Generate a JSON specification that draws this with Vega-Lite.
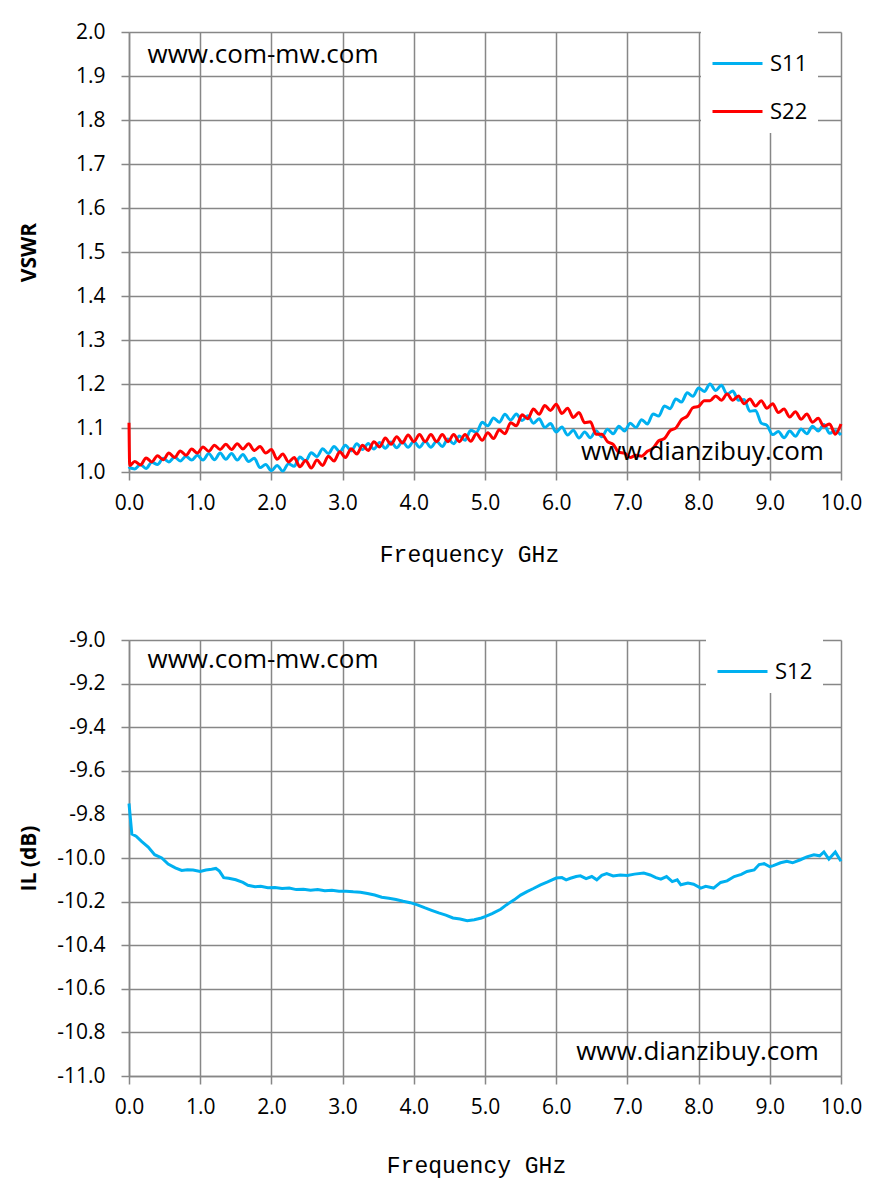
{
  "$schema": "https://vega.github.io/schema/vega-lite/v6.json",
  "padding": {"left": 18, "top": 21, "right": 5, "bottom": 5},
  "spacing": 63,
  "resolve": {"scale": {"color": "independent"}, "legend": {"color": "independent"}},
  "config": {
    "font": "Open Sans",
    "view": {"stroke": null},
    "axis": {
      "gridColor": "#878787", "gridWidth": 1.5, "gridOpacity": 1,
      "domainColor": "#878787", "domainWidth": 1.5,
      "tickColor": "#878787", "tickWidth": 1.5, "tickSize": 8,
      "labelFont": "Open Sans", "labelFontSize": 21, "labelColor": "#000000",
      "labelFlush": false, "titleColor": "#000000"
    },
    "axisX": {
      "labelPadding": 12,
      "titleFont": "Liberation Mono", "titleFontSize": 23, "titleFontWeight": "normal",
      "titleBaseline": "alphabetic", "titleX": 340
    },
    "axisY": {
      "labelPadding": 16,
      "titleFont": "Open Sans", "titleFontSize": 21, "titleFontWeight": "bold",
      "titleX": -100, "titleBaseline": "middle"
    },
    "legend": {
      "symbolType": "stroke", "symbolSize": 2500, "symbolStrokeWidth": 3,
      "labelFont": "Open Sans", "labelFontSize": 22, "labelColor": "#000000",
      "labelOffset": 6, "fillColor": "white", "padding": 10, "rowPadding": 10
    }
  },
  "vconcat": [
    {
      "width": 712,
      "height": 440,
      "layer": [
        {
          "data": {
            "values": [
              {"f": 0, "S11": 1.012, "S22": 1.112},
              {"f": 0.01, "S11": 1.010, "S22": 1.015},
              {"f": 0.08, "S11": 1.007, "S22": 1.024},
              {"f": 0.16, "S11": 1.017, "S22": 1.016},
              {"f": 0.24, "S11": 1.008, "S22": 1.032},
              {"f": 0.32, "S11": 1.022, "S22": 1.023},
              {"f": 0.40, "S11": 1.017, "S22": 1.037},
              {"f": 0.48, "S11": 1.031, "S22": 1.028},
              {"f": 0.56, "S11": 1.023, "S22": 1.043},
              {"f": 0.64, "S11": 1.034, "S22": 1.033},
              {"f": 0.72, "S11": 1.025, "S22": 1.048},
              {"f": 0.80, "S11": 1.036, "S22": 1.038},
              {"f": 0.88, "S11": 1.027, "S22": 1.052},
              {"f": 0.96, "S11": 1.038, "S22": 1.043},
              {"f": 1.04, "S11": 1.027, "S22": 1.057},
              {"f": 1.12, "S11": 1.042, "S22": 1.047},
              {"f": 1.20, "S11": 1.028, "S22": 1.061},
              {"f": 1.28, "S11": 1.043, "S22": 1.051},
              {"f": 1.36, "S11": 1.029, "S22": 1.063},
              {"f": 1.44, "S11": 1.042, "S22": 1.051},
              {"f": 1.52, "S11": 1.027, "S22": 1.064},
              {"f": 1.60, "S11": 1.040, "S22": 1.052},
              {"f": 1.68, "S11": 1.024, "S22": 1.064},
              {"f": 1.76, "S11": 1.031, "S22": 1.049},
              {"f": 1.84, "S11": 1.010, "S22": 1.058},
              {"f": 1.92, "S11": 1.017, "S22": 1.043},
              {"f": 2.00, "S11": 1.003, "S22": 1.051},
              {"f": 2.08, "S11": 1.015, "S22": 1.029},
              {"f": 2.16, "S11": 1.002, "S22": 1.041},
              {"f": 2.24, "S11": 1.019, "S22": 1.023},
              {"f": 2.32, "S11": 1.013, "S22": 1.033},
              {"f": 2.40, "S11": 1.034, "S22": 1.012},
              {"f": 2.48, "S11": 1.025, "S22": 1.026},
              {"f": 2.56, "S11": 1.044, "S22": 1.009},
              {"f": 2.64, "S11": 1.035, "S22": 1.027},
              {"f": 2.72, "S11": 1.053, "S22": 1.015},
              {"f": 2.80, "S11": 1.042, "S22": 1.036},
              {"f": 2.88, "S11": 1.058, "S22": 1.025},
              {"f": 2.96, "S11": 1.046, "S22": 1.046},
              {"f": 3.04, "S11": 1.061, "S22": 1.033},
              {"f": 3.12, "S11": 1.048, "S22": 1.053},
              {"f": 3.20, "S11": 1.064, "S22": 1.041},
              {"f": 3.28, "S11": 1.051, "S22": 1.061},
              {"f": 3.36, "S11": 1.065, "S22": 1.049},
              {"f": 3.44, "S11": 1.052, "S22": 1.069},
              {"f": 3.52, "S11": 1.067, "S22": 1.057},
              {"f": 3.60, "S11": 1.054, "S22": 1.077},
              {"f": 3.68, "S11": 1.068, "S22": 1.063},
              {"f": 3.76, "S11": 1.055, "S22": 1.080},
              {"f": 3.84, "S11": 1.069, "S22": 1.066},
              {"f": 3.92, "S11": 1.056, "S22": 1.084},
              {"f": 4.00, "S11": 1.070, "S22": 1.069},
              {"f": 4.08, "S11": 1.056, "S22": 1.085},
              {"f": 4.16, "S11": 1.070, "S22": 1.069},
              {"f": 4.24, "S11": 1.056, "S22": 1.085},
              {"f": 4.32, "S11": 1.070, "S22": 1.069},
              {"f": 4.40, "S11": 1.058, "S22": 1.085},
              {"f": 4.48, "S11": 1.075, "S22": 1.069},
              {"f": 4.56, "S11": 1.064, "S22": 1.085},
              {"f": 4.64, "S11": 1.082, "S22": 1.069},
              {"f": 4.72, "S11": 1.072, "S22": 1.085},
              {"f": 4.80, "S11": 1.095, "S22": 1.070},
              {"f": 4.88, "S11": 1.090, "S22": 1.087},
              {"f": 4.96, "S11": 1.113, "S22": 1.072},
              {"f": 5.04, "S11": 1.105, "S22": 1.089},
              {"f": 5.12, "S11": 1.123, "S22": 1.076},
              {"f": 5.20, "S11": 1.113, "S22": 1.096},
              {"f": 5.28, "S11": 1.131, "S22": 1.087},
              {"f": 5.36, "S11": 1.118, "S22": 1.112},
              {"f": 5.44, "S11": 1.132, "S22": 1.105},
              {"f": 5.52, "S11": 1.117, "S22": 1.130},
              {"f": 5.60, "S11": 1.128, "S22": 1.121},
              {"f": 5.68, "S11": 1.111, "S22": 1.143},
              {"f": 5.76, "S11": 1.121, "S22": 1.131},
              {"f": 5.84, "S11": 1.101, "S22": 1.151},
              {"f": 5.92, "S11": 1.110, "S22": 1.140},
              {"f": 6.00, "S11": 1.091, "S22": 1.154},
              {"f": 6.08, "S11": 1.102, "S22": 1.133},
              {"f": 6.16, "S11": 1.084, "S22": 1.145},
              {"f": 6.24, "S11": 1.095, "S22": 1.124},
              {"f": 6.32, "S11": 1.077, "S22": 1.135},
              {"f": 6.40, "S11": 1.091, "S22": 1.112},
              {"f": 6.48, "S11": 1.078, "S22": 1.114},
              {"f": 6.56, "S11": 1.094, "S22": 1.086},
              {"f": 6.64, "S11": 1.080, "S22": 1.086},
              {"f": 6.72, "S11": 1.097, "S22": 1.069},
              {"f": 6.80, "S11": 1.087, "S22": 1.063},
              {"f": 6.88, "S11": 1.104, "S22": 1.045},
              {"f": 6.96, "S11": 1.093, "S22": 1.043},
              {"f": 7.04, "S11": 1.111, "S22": 1.033},
              {"f": 7.12, "S11": 1.101, "S22": 1.038},
              {"f": 7.20, "S11": 1.119, "S22": 1.036},
              {"f": 7.28, "S11": 1.109, "S22": 1.047},
              {"f": 7.36, "S11": 1.132, "S22": 1.054},
              {"f": 7.44, "S11": 1.127, "S22": 1.071},
              {"f": 7.52, "S11": 1.150, "S22": 1.076},
              {"f": 7.60, "S11": 1.144, "S22": 1.094},
              {"f": 7.68, "S11": 1.166, "S22": 1.100},
              {"f": 7.76, "S11": 1.159, "S22": 1.119},
              {"f": 7.84, "S11": 1.180, "S22": 1.127},
              {"f": 7.92, "S11": 1.172, "S22": 1.146},
              {"f": 8.00, "S11": 1.191, "S22": 1.149},
              {"f": 8.08, "S11": 1.183, "S22": 1.162},
              {"f": 8.16, "S11": 1.200, "S22": 1.162},
              {"f": 8.24, "S11": 1.185, "S22": 1.173},
              {"f": 8.32, "S11": 1.197, "S22": 1.163},
              {"f": 8.40, "S11": 1.177, "S22": 1.177},
              {"f": 8.48, "S11": 1.184, "S22": 1.163},
              {"f": 8.56, "S11": 1.163, "S22": 1.173},
              {"f": 8.64, "S11": 1.165, "S22": 1.155},
              {"f": 8.72, "S11": 1.138, "S22": 1.166},
              {"f": 8.80, "S11": 1.140, "S22": 1.150},
              {"f": 8.88, "S11": 1.111, "S22": 1.162},
              {"f": 8.96, "S11": 1.106, "S22": 1.145},
              {"f": 9.04, "S11": 1.085, "S22": 1.155},
              {"f": 9.12, "S11": 1.092, "S22": 1.135},
              {"f": 9.20, "S11": 1.078, "S22": 1.143},
              {"f": 9.28, "S11": 1.093, "S22": 1.125},
              {"f": 9.36, "S11": 1.081, "S22": 1.137},
              {"f": 9.44, "S11": 1.098, "S22": 1.120},
              {"f": 9.52, "S11": 1.087, "S22": 1.132},
              {"f": 9.60, "S11": 1.104, "S22": 1.113},
              {"f": 9.68, "S11": 1.093, "S22": 1.122},
              {"f": 9.76, "S11": 1.108, "S22": 1.104},
              {"f": 9.84, "S11": 1.088, "S22": 1.109},
              {"f": 9.92, "S11": 1.094, "S22": 1.086},
              {"f": 10.00, "S11": 1.084, "S22": 1.109}
            ]
          },
          "transform": [{"fold": ["S11", "S22"], "as": ["series", "v"]}],
          "mark": {"type": "line", "strokeWidth": 3, "interpolate": "monotone"},
          "encoding": {
            "x": {
              "field": "f", "type": "quantitative",
              "scale": {"domain": [0, 10], "nice": false},
              "axis": {"values": [0, 1, 2, 3, 4, 5, 6, 7, 8, 9, 10], "format": ".1f", "title": "Frequency GHz", "titleY": 89}
            },
            "y": {
              "field": "v", "type": "quantitative",
              "scale": {"domain": [1, 2], "nice": false, "zero": false},
              "axis": {"values": [1, 1.1, 1.2, 1.3, 1.4, 1.5, 1.6, 1.7, 1.8, 1.9, 2], "format": ".1f", "title": "VSWR"}
            },
            "color": {
              "field": "series", "type": "nominal",
              "scale": {"domain": ["S11", "S22"], "range": ["#00b0f0", "#ff0000"]},
              "legend": {"title": null, "orient": "none", "legendX": 572, "legendY": -5}
            }
          }
        },
        {
          "data": {
            "values": [
              {"f": 0.26, "v": 1.93, "t": "www.com-mw.com"},
              {"f": 6.35, "v": 1.027, "t": "www.dianzibuy.com"}
            ]
          },
          "mark": {"type": "text", "align": "left", "baseline": "alphabetic", "font": "Open Sans", "fontSize": 26, "color": "#000000"},
          "encoding": {
            "x": {"field": "f", "type": "quantitative"},
            "y": {"field": "v", "type": "quantitative"},
            "text": {"field": "t"}
          }
        }
      ]
    },
    {
      "width": 712,
      "height": 436,
      "layer": [
        {
          "data": {
            "values": [
              {"f": 0, "S12": -9.75}, {"f": 0.04, "S12": -9.89}, {"f": 0.1, "S12": -9.9},
              {"f": 0.18, "S12": -9.925}, {"f": 0.27, "S12": -9.95}, {"f": 0.36, "S12": -9.985},
              {"f": 0.46, "S12": -10.0}, {"f": 0.55, "S12": -10.028}, {"f": 0.65, "S12": -10.045},
              {"f": 0.74, "S12": -10.057}, {"f": 0.82, "S12": -10.054}, {"f": 0.9, "S12": -10.055},
              {"f": 1.0, "S12": -10.062}, {"f": 1.08, "S12": -10.055}, {"f": 1.16, "S12": -10.052},
              {"f": 1.22, "S12": -10.048}, {"f": 1.27, "S12": -10.06}, {"f": 1.33, "S12": -10.09},
              {"f": 1.4, "S12": -10.093}, {"f": 1.5, "S12": -10.1}, {"f": 1.6, "S12": -10.112},
              {"f": 1.67, "S12": -10.125}, {"f": 1.77, "S12": -10.132}, {"f": 1.85, "S12": -10.13},
              {"f": 1.95, "S12": -10.136}, {"f": 2.05, "S12": -10.135}, {"f": 2.15, "S12": -10.14},
              {"f": 2.25, "S12": -10.138}, {"f": 2.35, "S12": -10.145}, {"f": 2.45, "S12": -10.143},
              {"f": 2.55, "S12": -10.148}, {"f": 2.65, "S12": -10.145}, {"f": 2.75, "S12": -10.15},
              {"f": 2.85, "S12": -10.148}, {"f": 2.95, "S12": -10.153}, {"f": 3.05, "S12": -10.152},
              {"f": 3.15, "S12": -10.155}, {"f": 3.25, "S12": -10.157}, {"f": 3.35, "S12": -10.163},
              {"f": 3.45, "S12": -10.17}, {"f": 3.55, "S12": -10.18}, {"f": 3.65, "S12": -10.185},
              {"f": 3.75, "S12": -10.19}, {"f": 3.85, "S12": -10.198}, {"f": 3.95, "S12": -10.205},
              {"f": 4.05, "S12": -10.215}, {"f": 4.15, "S12": -10.228}, {"f": 4.25, "S12": -10.24},
              {"f": 4.35, "S12": -10.252}, {"f": 4.45, "S12": -10.262}, {"f": 4.55, "S12": -10.275},
              {"f": 4.65, "S12": -10.28}, {"f": 4.75, "S12": -10.288}, {"f": 4.85, "S12": -10.283},
              {"f": 4.95, "S12": -10.275}, {"f": 5.0, "S12": -10.269}, {"f": 5.1, "S12": -10.255},
              {"f": 5.22, "S12": -10.235}, {"f": 5.3, "S12": -10.215}, {"f": 5.41, "S12": -10.192},
              {"f": 5.5, "S12": -10.17}, {"f": 5.59, "S12": -10.154}, {"f": 5.68, "S12": -10.14},
              {"f": 5.78, "S12": -10.123}, {"f": 5.88, "S12": -10.11}, {"f": 6.0, "S12": -10.092},
              {"f": 6.08, "S12": -10.09}, {"f": 6.14, "S12": -10.1}, {"f": 6.2, "S12": -10.093},
              {"f": 6.28, "S12": -10.085}, {"f": 6.34, "S12": -10.082}, {"f": 6.42, "S12": -10.095},
              {"f": 6.5, "S12": -10.085}, {"f": 6.57, "S12": -10.1}, {"f": 6.64, "S12": -10.08},
              {"f": 6.71, "S12": -10.072}, {"f": 6.8, "S12": -10.082}, {"f": 6.9, "S12": -10.078},
              {"f": 7.0, "S12": -10.08}, {"f": 7.1, "S12": -10.074}, {"f": 7.23, "S12": -10.069},
              {"f": 7.32, "S12": -10.078}, {"f": 7.4, "S12": -10.09}, {"f": 7.47, "S12": -10.097},
              {"f": 7.55, "S12": -10.085}, {"f": 7.63, "S12": -10.108}, {"f": 7.7, "S12": -10.1},
              {"f": 7.75, "S12": -10.123}, {"f": 7.85, "S12": -10.115}, {"f": 7.93, "S12": -10.12},
              {"f": 8.03, "S12": -10.138}, {"f": 8.1, "S12": -10.13}, {"f": 8.21, "S12": -10.138},
              {"f": 8.31, "S12": -10.112}, {"f": 8.4, "S12": -10.105}, {"f": 8.5, "S12": -10.085},
              {"f": 8.6, "S12": -10.075}, {"f": 8.68, "S12": -10.062}, {"f": 8.78, "S12": -10.055},
              {"f": 8.85, "S12": -10.03}, {"f": 8.92, "S12": -10.026}, {"f": 9.0, "S12": -10.04},
              {"f": 9.05, "S12": -10.035}, {"f": 9.15, "S12": -10.022}, {"f": 9.24, "S12": -10.015},
              {"f": 9.32, "S12": -10.022}, {"f": 9.43, "S12": -10.008}, {"f": 9.52, "S12": -9.995},
              {"f": 9.62, "S12": -9.985}, {"f": 9.7, "S12": -9.99}, {"f": 9.76, "S12": -9.972},
              {"f": 9.83, "S12": -10.005}, {"f": 9.92, "S12": -9.972}, {"f": 10.0, "S12": -10.015}
            ]
          },
          "transform": [{"fold": ["S12"], "as": ["series", "v"]}],
          "mark": {"type": "line", "strokeWidth": 3},
          "encoding": {
            "x": {
              "field": "f", "type": "quantitative",
              "scale": {"domain": [0, 10], "nice": false},
              "axis": {"values": [0, 1, 2, 3, 4, 5, 6, 7, 8, 9, 10], "format": ".1f", "title": "Frequency GHz", "titleY": 96, "titleX": 347}
            },
            "y": {
              "field": "v", "type": "quantitative",
              "scale": {"domain": [-11, -9], "nice": false, "zero": false},
              "axis": {
                "values": [-11, -10.8, -10.6, -10.4, -10.2, -10, -9.8, -9.6, -9.4, -9.2, -9],
                "labelExpr": "replace(format(datum.value, '.1f'), '−', '-')",
                "title": "IL (dB)"
              }
            },
            "color": {
              "field": "series", "type": "nominal",
              "scale": {"domain": ["S12"], "range": ["#00b0f0"]},
              "legend": {"title": null, "orient": "none", "legendX": 577, "legendY": -5}
            }
          }
        },
        {
          "data": {
            "values": [
              {"f": 0.26, "v": -9.13, "t": "www.com-mw.com"},
              {"f": 6.28, "v": -10.927, "t": "www.dianzibuy.com"}
            ]
          },
          "mark": {"type": "text", "align": "left", "baseline": "alphabetic", "font": "Open Sans", "fontSize": 26, "color": "#000000"},
          "encoding": {
            "x": {"field": "f", "type": "quantitative"},
            "y": {"field": "v", "type": "quantitative"},
            "text": {"field": "t"}
          }
        }
      ]
    }
  ]
}
